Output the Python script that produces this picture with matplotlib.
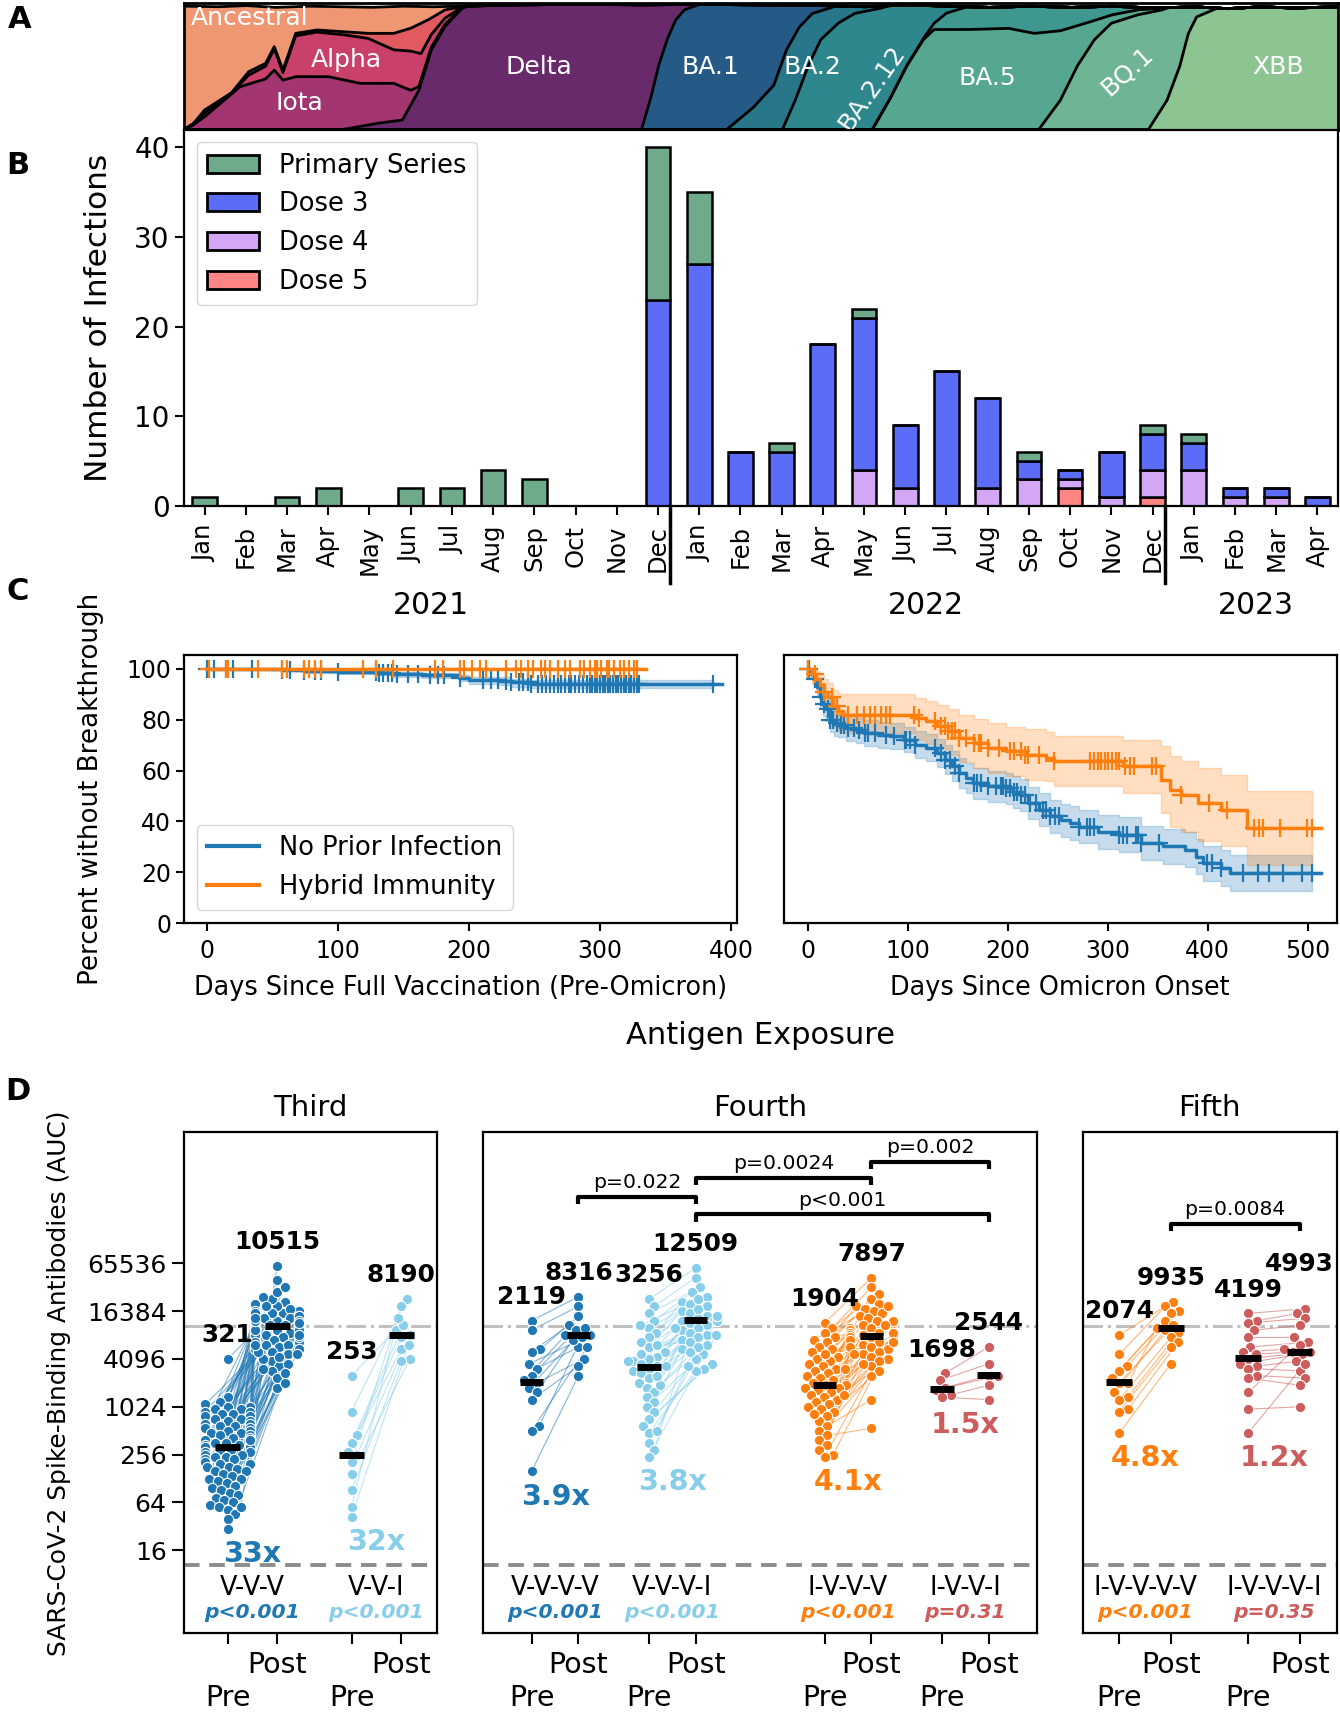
import numpy as np
import matplotlib
matplotlib.use("Agg")
import matplotlib.pyplot as plt
from matplotlib.collections import LineCollection
from matplotlib.patches import Patch
from matplotlib.lines import Line2D
from matplotlib.ticker import NullLocator

plt.rcParams["axes.linewidth"] = 1.6
plt.rcParams["xtick.major.width"] = 1.5
plt.rcParams["ytick.major.width"] = 1.5

W, H = 1340, 1713

# ---------------- A: lineage share (cumulative upper edge of each lineage, bottom -> top) ----------------
variant_names = ["XBB", "BQ.1", "BA.5", "BA.4", "BA.2.12", "BA.2", "BA.1", "Delta", "Iota", "Alpha", "Other", "Ancestral"]
variant_colors = ["#8dc592", "#6eb495", "#56a791", "#3e988f", "#2e878c", "#27768a", "#255a87",
                  "#692a6b", "#a33570", "#c9416b", "#e15a5f", "#ef9672"]
edge_xbb = [(-0.5, 0), (22.9, 0), (23.35, 0.23), (23.66, 0.5), (23.87, 0.76), (24.07, 0.89), (24.5, 0.95), (25.0, 1.0), (27.5, 1.0)]
edge_bq1 = [(-0.5, 0), (20.24, 0), (20.76, 0.23), (21.17, 0.5), (21.59, 0.71), (22.0, 0.84), (22.62, 0.905), (23.24, 0.945), (23.6, 1.0), (27.5, 1.0)]
edge_ba5 = [(-0.5, 0), (16.2, 0), (16.61, 0.23), (17.03, 0.5), (17.44, 0.71), (17.7, 0.79), (18.5, 0.79), (19.5, 0.8), (20.13, 0.76),
            (20.76, 0.78), (21.38, 0.84), (22.0, 0.905), (22.62, 0.945), (23.66, 0.97), (24.0, 1.0), (27.5, 1.0)]
edge_ba4 = [(-0.5, 0), (16.2, 0), (16.61, 0.23), (17.03, 0.5), (17.44, 0.72), (17.7, 0.84), (18.0, 0.92), (18.4, 0.96), (18.8, 1.0), (27.5, 1.0)]
edge_ba212 = [(-0.5, 0), (14.02, 0), (14.33, 0.23), (14.64, 0.5), (14.95, 0.71), (15.37, 0.84), (15.78, 0.918), (16.4, 0.958), (16.8, 1.0), (27.5, 1.0)]
edge_ba2 = [(-0.5, 0), (12.67, 0), (13.3, 0.17), (13.81, 0.35), (14.12, 0.63), (14.43, 0.81), (14.75, 0.918), (15.16, 0.958), (15.5, 1.0), (27.5, 1.0)]
edge_ba1 = [(-0.5, 0), (10.6, 0), (10.81, 0.23), (11.01, 0.5), (11.22, 0.71), (11.43, 0.866), (11.64, 0.945), (11.84, 0.97), (12.1, 1.0), (27.5, 1.0)]
edge_delta = [(-0.5, 0), (3.35, 0), (4.17, 0.048), (4.8, 0.075), (5.2, 0.31), (5.5, 0.628), (5.83, 0.813), (6.25, 0.958), (6.6, 1.0), (27.5, 1.0)]
edge_iota = [(-0.5, 0), (-0.3, 0.03), (0.0, 0.10), (0.86, 0.338), (1.48, 0.4), (1.69, 0.47), (1.9, 0.39), (2.21, 0.418), (3.0, 0.418),
             (3.76, 0.365), (4.59, 0.365), (5.0, 0.31), (5.2, 0.34), (5.5, 0.65), (5.83, 0.83), (6.25, 0.965), (6.6, 1.0), (27.5, 1.0)]
edge_alpha = [(-0.5, 0), (-0.3, 0.04), (0.0, 0.13), (0.65, 0.286), (1.07, 0.43), (1.48, 0.5), (1.69, 0.64), (1.9, 0.45), (2.21, 0.74),
              (2.72, 0.77), (3.35, 0.75), (3.97, 0.72), (4.59, 0.63), (5.0, 0.62), (5.25, 0.6), (5.5, 0.75), (5.83, 0.88), (6.25, 0.968),
              (6.6, 1.0), (27.5, 1.0)]
edge_other = [(-0.5, 0), (-0.3, 0.036), (0.0, 0.154), (0.65, 0.29), (1.07, 0.457), (1.48, 0.523), (1.69, 0.655), (1.9, 0.47), (2.21, 0.76),
              (2.72, 0.787), (3.35, 0.773), (3.97, 0.76), (4.59, 0.76), (5.0, 0.8), (5.42, 0.866), (5.83, 0.945), (6.25, 0.971),
              (6.6, 1.0), (27.5, 1.0)]
edge_top = [(-0.5, 0.975), (0.3, 0.97), (1.0, 0.98), (1.7, 0.965), (2.5, 0.975), (3.3, 0.97), (4.0, 0.965), (4.8, 0.975), (5.5, 0.97),
            (6.3, 0.975), (7.5, 0.985), (9.0, 0.99), (10.5, 0.985), (12.0, 0.99), (13.5, 0.985), (15.0, 0.98), (16.0, 0.97),
            (17.0, 0.985), (18.0, 0.975), (19.0, 0.965), (20.0, 0.975), (21.0, 0.965), (22.0, 0.975), (23.0, 0.96), (24.0, 0.97),
            (24.8, 0.955), (25.6, 0.97), (26.4, 0.96), (27.5, 0.97)]
variant_edges = [edge_xbb, edge_bq1, edge_ba5, edge_ba4, edge_ba212, edge_ba2, edge_ba1, edge_delta, edge_iota, edge_alpha, edge_other]

label_text = ["Ancestral", "Alpha", "Iota", "Delta", "BA.1", "BA.2", "BA.2.12", "BA.5", "BQ.1", "XBB"]
label_x = [1.1, 3.45, 2.31, 8.12, 12.26, 14.75, 16.2, 18.99, 22.4, 26.04]
label_y = [0.88, 0.55, 0.207, 0.497, 0.497, 0.497, 0.326, 0.405, 0.457, 0.497]
label_rot = [0, 0, 0, 0, 0, 0, 55, 0, 42, 0]

# ---------------- B: breakthrough infections per month ----------------
months = ["Jan", "Feb", "Mar", "Apr", "May", "Jun", "Jul", "Aug", "Sep", "Oct", "Nov", "Dec",
          "Jan", "Feb", "Mar", "Apr", "May", "Jun", "Jul", "Aug", "Sep", "Oct", "Nov", "Dec",
          "Jan", "Feb", "Mar", "Apr"]
years = ["2021", "2022", "2023"]
primary_series = [1, 0, 1, 2, 0, 2, 2, 4, 3, 0, 0, 17, 8, 0, 1, 0, 1, 0, 0, 0, 1, 0, 0, 1, 1, 0, 0, 0]
dose3 = [0, 0, 0, 0, 0, 0, 0, 0, 0, 0, 0, 23, 27, 6, 6, 18, 17, 7, 15, 10, 2, 1, 5, 4, 3, 1, 1, 1]
dose4 = [0, 0, 0, 0, 0, 0, 0, 0, 0, 0, 0, 0, 0, 0, 0, 0, 4, 2, 0, 2, 3, 1, 1, 3, 4, 1, 1, 0]
dose5 = [0, 0, 0, 0, 0, 0, 0, 0, 0, 0, 0, 0, 0, 0, 0, 0, 0, 0, 0, 0, 0, 2, 0, 1, 0, 0, 0, 0]
dose_colors = {"Primary Series": "#6fab8b", "Dose 3": "#5a6cf8", "Dose 4": "#d4a6f6", "Dose 5": "#ff8585"}

# ---------------- C: Kaplan-Meier, percent without breakthrough ----------------
blue, orange = "#1f77b4", "#ff7f0e"
pre_none_t = [0, 57, 74, 100, 130, 142, 164, 192, 200, 224, 232, 247]
pre_none_s = [100, 99.5, 99.1, 98.7, 98.4, 97.8, 97.4, 96.5, 95.6, 95.3, 94.6, 94.1]
pre_none_lo = [100, 99.0, 98.4, 97.9, 97.5, 96.8, 96.3, 95.2, 94.2, 93.8, 93.0, 92.4]
pre_none_hi = [100, 99.9, 99.6, 99.3, 99.1, 98.6, 98.3, 97.6, 96.8, 96.6, 96.0, 95.6]
pre_none_cens = [0, 5, 14, 20, 34, 57, 63, 74, 82, 87, 100, 129, 131, 134, 138, 141, 145, 153, 161, 170, 176, 181, 193, 211, 217,
                 222, 228, 232, 238, 241, 245, 247, 253, 256, 259, 262, 265, 268, 270, 273, 276, 278, 281, 284, 287, 290, 292,
                 294, 296, 298, 300, 302, 304, 306, 308, 310, 312, 314, 316, 318, 320, 322, 324, 326, 328, 330, 386]
pre_hyb_t = [0]
pre_hyb_s = [100]
pre_hyb_lo = [100]
pre_hyb_hi = [100]
pre_hyb_cens = [1, 14, 16, 39, 57, 61, 74, 78, 82, 87, 119, 129, 142, 174, 180, 193, 196, 202, 208, 213, 228, 236, 240, 245, 249,
                255, 258, 262, 268, 273, 277, 285, 288, 292, 296, 298, 301, 305, 307, 311, 315, 318, 322, 326, 328]

om_none_t = [0, 3, 6, 9, 12, 15, 18, 22, 26, 30, 38, 48, 56, 70, 82, 96, 107, 118, 129, 137, 144, 151, 158, 165, 180, 198, 205,
             212, 220, 231, 242, 253, 262, 271, 290, 311, 333, 355, 377, 388, 395, 413, 422]
om_none_s = [100, 98, 95.8, 93, 89, 86, 84, 80, 78.5, 78, 76.7, 75.8, 74.8, 74.0, 73.5, 72.2, 70.2, 69, 67, 64.3, 61.7, 59, 57,
             55, 53.8, 53.1, 51.5, 50.5, 47.2, 44.6, 42, 40.5, 39.4, 38, 36, 34.8, 31.5, 30.2, 28.9, 26.2, 23.6, 21.7, 19.7]
om_none_hi = [100, 99.5, 98.5, 96.5, 93.5, 90.5, 88.5, 85, 83.5, 83, 81.7, 80.8, 79.8, 79, 78.5, 77.3, 75.5, 74.3, 72.5, 70, 67.5,
              65, 63, 61, 59.8, 59.2, 57.7, 56.8, 53.6, 51, 48.5, 47, 46, 44.6, 42.7, 41.6, 38.3, 37, 35.8, 33, 30.5, 28.8, 27]
om_none_lo = [100, 96, 92.8, 89.5, 84.5, 81.5, 79.5, 75, 73.5, 73, 71.7, 70.8, 69.8, 69, 68.5, 67.1, 65, 63.7, 61.5, 58.6, 56,
              53, 51, 49, 47.8, 47, 45.3, 44.2, 40.8, 38.2, 35.5, 34, 32.8, 31.4, 29.3, 28, 24.7, 23.4, 22.1, 19.4, 16.7, 14.5, 12.5]
om_none_cens = [0, 1, 7, 13, 16, 20, 22, 25, 29, 33, 36, 40, 46, 51, 57, 60, 67, 78, 86, 97, 98, 102, 107, 127, 133, 137, 142,
                147, 151, 166, 169, 173, 180, 188, 193, 195, 198, 202, 206, 209, 213, 217, 222, 228, 235, 238, 242, 247, 251,
                271, 279, 282, 286, 311, 315, 319, 328, 330, 333, 351, 399, 404, 413, 435, 450, 461, 475, 494, 504]
om_hyb_t = [0, 4, 8, 12, 16, 20, 25, 30, 35, 107, 118, 129, 140, 151, 166, 180, 198, 217, 238, 246, 315, 353, 362, 373, 390, 413, 439]
om_hyb_s = [100, 98, 96, 93.5, 91, 89, 85.3, 83.5, 82, 80.7, 79.4, 77.4, 75.5, 72.8, 70.9, 68.9, 67.5, 66.3, 65, 63.6, 61.7, 56.4,
            52.5, 50.5, 47.2, 44.6, 37.4]
om_hyb_hi = [100, 99.8, 99, 97.5, 95.8, 94.5, 91.5, 90.2, 89.9, 88.5, 87.4, 85.8, 84.2, 82, 80.3, 78.5, 77.2, 76.2, 75, 73.5,
             72.2, 69.5, 65.6, 63.8, 61, 58.4, 51.8]
om_hyb_lo = [100, 94, 91, 87.5, 84.5, 81.5, 77.3, 75.5, 74.8, 72, 70.5, 68.5, 66.2, 63.2, 61, 59, 57.7, 56.4, 55.8, 53.8, 51.2,
             43.3, 38, 36, 32.5, 30.2, 23]
om_hyb_cens = [0, 7, 16, 24, 29, 40, 49, 56, 62, 67, 73, 78, 82, 106, 111, 127, 133, 137, 140, 144, 147, 151, 158, 166, 171, 173,
               180, 191, 202, 206, 213, 217, 220, 231, 246, 282, 286, 290, 293, 297, 300, 304, 308, 311, 317, 322, 326, 344, 348,
               373, 401, 419, 446, 451, 455, 472, 499, 504]

# ---------------- D: spike-binding antibodies, log2 AUC before / after each exposure ----------------
light_blue, red = "#87ceeb", "#cd5c5c"
vvv_pre = [12.0, 10.4, 10.2, 10.1, 10.0, 10.0, 9.9, 9.9, 9.8, 9.8, 9.7, 9.7, 9.6, 9.6, 9.5, 9.5, 9.4, 9.4, 9.3, 9.3,
           9.2, 9.2, 9.1, 9.1, 9.0, 9.0, 8.9, 8.9, 8.8, 8.8, 8.7, 8.7, 8.6, 8.6, 8.5, 8.5, 8.4, 8.4, 8.3, 8.3,
           8.2, 8.2, 8.1, 8.1, 8.0, 8.0, 7.9, 7.9, 7.8, 7.8, 7.7, 7.6, 7.6, 7.5, 7.5, 7.4, 7.3, 7.3, 7.2, 7.1,
           7.0, 7.0, 6.9, 6.8, 6.7, 6.6, 6.5, 6.4, 6.3, 6.2, 6.1, 6.0, 5.9, 5.8, 5.7, 5.5, 5.3, 5.8, 4.9, 8.6]
vvv_post = [14.4, 13.9, 14.2, 14.0, 13.8, 14.5, 13.6, 14.1, 13.7, 13.9, 13.5, 14.3, 13.4, 13.8, 13.6, 14.6, 13.3, 13.7, 13.5, 14.0,
            13.2, 13.6, 13.4, 13.9, 13.1, 13.5, 13.3, 14.8, 13.0, 13.4, 13.2, 13.7, 12.9, 13.3, 13.1, 15.0, 12.8, 13.5, 13.0, 13.2,
            12.7, 13.4, 12.9, 13.8, 12.6, 13.1, 12.8, 14.2, 12.5, 13.3, 12.4, 13.0, 12.7, 13.6, 12.3, 12.9, 12.6, 15.3, 12.2, 13.2,
            13.5, 13.6, 13.7, 11.9, 12.4, 11.7, 12.2, 11.5, 12.0, 11.2, 11.8, 10.8, 12.3, 11.0, 12.6, 11.4, 13.0, 11.6, 12.1, 15.9]
vvi_pre = [11.3, 9.8, 8.8, 8.5, 8.1, 8.0, 7.7, 7.2, 6.5, 5.8, 5.4]
vvi_post = [13.2, 14.5, 12.4, 13.4, 12.9, 13.0, 14.2, 12.0, 11.9, 13.7, 12.6]
vvvv_pre = [13.6, 13.2, 12.4, 12.3, 11.8, 11.6, 11.3, 11.1, 11.0, 10.8, 10.6, 10.3, 9.2, 9.0, 7.3]
vvvv_post = [14.6, 14.2, 13.8, 13.4, 13.0, 12.5, 13.2, 13.0, 12.0, 13.3, 12.8, 11.7, 12.9, 12.5, 11.3]
vvvi_pre = [14.5, 14.2, 13.9, 13.6, 13.3, 13.1, 12.9, 12.7, 12.5, 12.3, 12.1, 12.0, 11.9, 11.8, 11.7, 11.7, 11.6, 11.5, 11.4, 11.2,
            11.0, 10.8, 10.6, 10.4, 10.2, 10.0, 9.8, 9.5, 9.2, 8.9, 8.5, 8.2, 7.9, 12.6, 13.4, 11.9, 10.9, 12.2, 11.3, 9.0]
vvvi_post = [15.8, 15.4, 15.0, 14.8, 14.6, 14.4, 14.3, 14.2, 14.0, 13.9, 13.8, 13.7, 13.7, 13.6, 13.6, 13.5, 13.4, 13.3, 13.2, 13.1,
             13.0, 12.9, 12.8, 12.6, 12.4, 12.2, 12.0, 11.8, 11.6, 11.5, 13.6, 14.1, 13.0, 12.7, 14.5, 13.3, 12.5, 13.8, 12.3, 11.7]
ivvv_pre = [13.5, 13.3, 13.1, 12.9, 12.8, 12.7, 12.5, 12.4, 12.3, 12.1, 12.0, 11.9, 11.8, 11.7, 11.6, 11.5, 11.4, 11.3, 11.2, 11.1,
            11.0, 11.0, 10.9, 10.9, 10.8, 10.8, 10.7, 10.6, 10.5, 10.4, 10.3, 10.2, 10.1, 10.0, 9.9, 9.8, 9.6, 9.4, 9.2, 9.0,
            8.8, 8.6, 8.4, 8.2, 8.0, 7.9, 11.6, 12.2, 10.5, 9.7]
ivvv_post = [15.4, 15.0, 14.7, 14.5, 14.3, 14.2, 14.1, 14.0, 13.9, 13.8, 13.7, 13.6, 13.5, 13.4, 13.3, 13.3, 13.2, 13.1, 13.1, 13.0,
             13.0, 13.0, 12.9, 12.9, 12.9, 12.8, 12.8, 12.7, 12.6, 12.5, 12.4, 12.3, 12.2, 12.1, 12.0, 11.9, 11.7, 11.5, 11.3, 10.3,
             9.1, 13.6, 12.5, 14.2, 12.9, 13.1, 13.4, 12.7, 12.2, 11.8]
ivvi_pre = [11.4, 11.1, 10.8, 10.7, 10.5, 10.4]
ivvi_post = [12.5, 11.8, 11.3, 11.3, 10.9, 10.3]
ivvvv_pre = [13.0, 12.2, 11.7, 11.5, 11.2, 11.0, 11.0, 10.6, 10.4, 10.3, 9.9, 9.8, 8.9]
ivvvv_post = [14.4, 14.2, 14.0, 13.9, 13.6, 13.4, 13.3, 13.2, 13.1, 12.9, 12.7, 12.5, 11.8]
ivvvi_pre = [13.9, 13.6, 13.5, 13.2, 12.9, 12.5, 12.3, 12.2, 12.0, 11.8, 11.7, 11.6, 11.3, 11.2, 10.6, 9.9, 8.9]
ivvvi_post = [14.1, 13.9, 13.7, 13.4, 12.9, 12.7, 12.4, 12.3, 12.3, 12.2, 11.9, 11.5, 11.2, 10.9, 12.6, 10.0, 11.8]

# per panel: (name, colour, pre, post, pre x, median pre, median post, fold, p)
third_groups = [("V-V-V", blue, vvv_pre, vvv_post, 0.0, 321, 10515, "33x", "p<0.001"),
                ("V-V-I", light_blue, vvi_pre, vvi_post, 2.5, 253, 8190, "32x", "p<0.001")]
fourth_groups = [("V-V-V-V", blue, vvvv_pre, vvvv_post, 0.0, 2119, 8316, "3.9x", "p<0.001"),
                 ("V-V-V-I", light_blue, vvvi_pre, vvvi_post, 2.5, 3256, 12509, "3.8x", "p<0.001"),
                 ("I-V-V-V", orange, ivvv_pre, ivvv_post, 6.25, 1904, 7897, "4.1x", "p<0.001"),
                 ("I-V-V-I", red, ivvi_pre, ivvi_post, 8.75, 1698, 2544, "1.5x", "p=0.31")]
fifth_groups = [("I-V-V-V-V", orange, ivvvv_pre, ivvvv_post, 0.0, 2074, 9935, "4.8x", "p<0.001"),
                ("I-V-V-V-I", red, ivvvi_pre, ivvvi_post, 2.5, 4199, 4993, "1.2x", "p=0.35")]
median_label_lift = {4993: 15}  # points, lifted clear of its neighbour
# brackets: (x1, x2, log2 level, text)
fourth_brackets = [(1.0, 3.5, 18.77, "p=0.022"), (3.5, 7.25, 19.56, "p=0.0024"),
                   (7.25, 9.75, 20.23, "p=0.002"), (3.5, 9.75, 18.04, "p<0.001")]
fifth_brackets = [(1.0, 3.5, 17.64, "p=0.0084")]
lod, upper_ref = 10.3, 10600


def rect(x0, y0, x1, y1):
    return [x0 / W, 1 - y1 / H, (x1 - x0) / W, (y1 - y0) / H]


def swarm(vals, unit_px, dy_px=23.92, d=9.0, maxw=0.45):
    vals = np.asarray(vals, float)
    ys = vals * dy_px
    order = np.argsort(vals, kind="stable")
    px, py = [], []
    out = np.zeros(len(vals))
    lim = maxw * unit_px
    for i in order:
        y = ys[i]
        cands = [0.0]
        for a, b in zip(px, py):
            dy = abs(y - b)
            if dy < d:
                dx = np.sqrt(d * d - dy * dy)
                cands += [a + dx, a - dx]
        cands.sort(key=abs)
        pick = None
        for c in cands:
            if abs(c) > lim:
                continue
            if all((c - a) ** 2 + (y - b) ** 2 >= d * d - 1e-6 for a, b in zip(px, py)):
                pick = c
                break
        if pick is None:
            pick = lim if len(px) % 2 else -lim
        px.append(pick)
        py.append(y)
        out[i] = pick / unit_px
    return out


fig = plt.figure(figsize=(W / 100, H / 100), dpi=100)

# ---------------- A ----------------
axA = fig.add_axes(rect(184, 3, 1338, 129.5))
grid = np.linspace(-0.5, 27.5, 2801)
top = np.interp(grid, *zip(*edge_top))
cums = [np.minimum(np.interp(grid, *zip(*e)), top) for e in variant_edges] + [top]
for k in range(1, len(cums)):
    cums[k] = np.maximum(cums[k], cums[k - 1])
lower = np.zeros_like(grid)
for c, col in zip(cums, variant_colors):
    axA.fill_between(grid, lower, c, color=col, lw=0)
    lower = c
for c in cums:
    axA.plot(grid, c, color="k", lw=2)
for t, x, y, r in zip(label_text, label_x, label_y, label_rot):
    axA.text(x, y, t, color="white", fontsize=18, ha="center", va="center", rotation=r)
axA.set_xlim(-0.5, 27.5)
axA.set_ylim(0, 1)
axA.set_xticks([])
axA.set_yticks([])
for s in axA.spines.values():
    s.set_linewidth(2)

# ---------------- B ----------------
axB = fig.add_axes(rect(184, 129.5, 1338, 505.7))
x = np.arange(len(months))
b = np.zeros(len(months))
for name, vals in [("Dose 5", dose5), ("Dose 4", dose4), ("Dose 3", dose3), ("Primary Series", primary_series)]:
    axB.bar(x, vals, 0.6, bottom=b, color=dose_colors[name], edgecolor="k", lw=1.8)
    b = b + np.array(vals)
axB.set_xlim(-0.5, 27.5)
axB.set_ylim(0, 42)
axB.set_yticks([0, 10, 20, 30, 40])
axB.set_xticks(x)
axB.set_xticklabels(months, rotation=90, fontsize=17.5)
axB.tick_params(axis="y", labelsize=20, length=6.7)
axB.tick_params(axis="x", length=6.7, pad=7)
for xs in [11.3, 23.3]:
    axB.plot([xs, xs], [0, -8.6], color="k", lw=2.5, clip_on=False)
for yr, xc in zip(years, [5.5, 17.5, 25.5]):
    axB.text(xc, -11.1, yr, fontsize=21.5, ha="center", va="center", clip_on=False)
handles = [Patch(facecolor=dose_colors[n], edgecolor="k", lw=2) for n in dose_colors]
axB.legend(handles, list(dose_colors), loc="upper left", fontsize=18.5, handlelength=2.0)
fig.text(99 / W, 1 - 318 / H, "Number of Infections", rotation=90, fontsize=22.5, ha="center", va="center")


# ---------------- C ----------------
def km(ax, t, s, lo, hi, t_end, ci_end, cens, color):
    t = np.asarray(t, float)
    s = np.asarray(s, float)
    ax.fill_between(list(t) + [ci_end], list(lo) + [lo[-1]], list(hi) + [hi[-1]], step="post",
                    color=color, alpha=0.25, lw=1)
    ax.step(list(t) + [t_end], list(s) + [s[-1]], where="post", color=color, lw=2.5)
    idx = np.searchsorted(t, cens, side="right") - 1
    ax.plot(cens, s[idx], ls="none", marker="+", ms=13, mew=1.6, color=color)


axC1 = fig.add_axes(rect(184.2, 655, 736.8, 923.3))
km(axC1, pre_none_t, pre_none_s, pre_none_lo, pre_none_hi, 393, 386, pre_none_cens, blue)
km(axC1, pre_hyb_t, pre_hyb_s, pre_hyb_lo, pre_hyb_hi, 335, 330, pre_hyb_cens, orange)
axC1.set_xlim(-17.6, 404.5)
axC1.set_ylim(0, 105.4)
axC1.set_xticks([0, 100, 200, 300, 400])
axC1.set_yticks([0, 20, 40, 60, 80, 100])
axC1.tick_params(labelsize=17, length=5.8)
axC1.tick_params(axis="x", pad=5.5)
axC1.text(0.5, -0.243, "Days Since Full Vaccination (Pre-Omicron)", transform=axC1.transAxes,
          fontsize=18.4, ha="center", va="center")
axC1.legend([Line2D([], [], color=blue, lw=3), Line2D([], [], color=orange, lw=3)],
            ["No Prior Infection", "Hybrid Immunity"], loc="lower left", fontsize=18.5, handlelength=2.0)

axC2 = fig.add_axes(rect(783.5, 655, 1336.5, 923.3))
km(axC2, om_none_t, om_none_s, om_none_lo, om_none_hi, 513, 504, om_none_cens, blue)
km(axC2, om_hyb_t, om_hyb_s, om_hyb_lo, om_hyb_hi, 513, 504, om_hyb_cens, orange)
axC2.set_xlim(-24.7, 529)
axC2.set_ylim(0, 105.4)
axC2.set_xticks([0, 100, 200, 300, 400, 500])
axC2.tick_params(labelsize=17, length=5.8)
axC2.tick_params(axis="x", pad=5.5)
axC2.tick_params(axis="y", left=False, labelleft=False)
axC2.text(0.5, -0.243, "Days Since Omicron Onset", transform=axC2.transAxes,
          fontsize=18.4, ha="center", va="center")
fig.text(91 / W, 1 - 789 / H, "Percent without Breakthrough", rotation=90, fontsize=18.8, ha="center", va="center")
fig.text(761 / W, 1 - 1036 / H, "Antigen Exposure", fontsize=22, ha="center", va="center")

# ---------------- D ----------------
d_axes = [
    (rect(184, 1131.7, 437.3, 1633.3), (-0.88, 4.23), "Third", third_groups, []),
    (rect(483.3, 1131.7, 1037, 1633.3), (-1.03, 10.78), "Fourth", fourth_groups, fourth_brackets),
    (rect(1082.7, 1131.7, 1336.7, 1633.3), (-0.71, 4.22), "Fifth", fifth_groups, fifth_brackets),
]
yticks_d = [16, 64, 256, 1024, 4096, 16384, 65536]
for k, (pos, xl, title, groups, brackets) in enumerate(d_axes):
    ax = fig.add_axes(pos)
    ax.set_yscale("log", base=2)
    ax.set_xlim(*xl)
    ax.set_ylim(2 ** 0.53, 2 ** 21.5)
    unit_px = pos[2] * W / (xl[1] - xl[0])
    ax.axhline(lod, color="#8c8c8c", ls=(0, (4, 2.5)), lw=2.8, zorder=1)
    ax.axhline(upper_ref, color="#c0c0c0", ls="-.", lw=2.2, zorder=1)
    ticks, ticklabels = [], []
    for name, col, pre, post, x0, mpre, mpost, fold, pval in groups:
        pre = np.asarray(pre)
        post = np.asarray(post)
        xa = x0 + swarm(pre, unit_px)
        xb = x0 + 1 + swarm(post, unit_px)
        segs = [[(a, 2 ** p), (c, 2 ** q)] for a, p, c, q in zip(xa, pre, xb, post)]
        ax.add_collection(LineCollection(segs, colors=col, lw=0.8, alpha=0.55, zorder=2))
        ax.scatter(xa, 2 ** pre, s=55, color=col, edgecolor="white", lw=0.8, zorder=3)
        ax.scatter(xb, 2 ** post, s=55, color=col, edgecolor="white", lw=0.8, zorder=3)
        for xm, m, vals in [(x0, mpre, pre), (x0 + 1, mpost, post)]:
            ax.hlines(m, xm - 0.25, xm + 0.25, color="k", lw=5, zorder=4)
            ax.annotate(str(m), (xm, 2 ** vals.max()), xytext=(0, 12 + median_label_lift.get(m, 0)),
                        textcoords="offset points", ha="center", va="baseline", fontsize=17.8,
                        fontweight="bold", zorder=5)
        ax.annotate(fold, (x0 + 0.5, 2 ** min(pre.min(), post.min())), xytext=(0, -24), textcoords="offset points",
                    ha="center", va="baseline", fontsize=20.5, fontweight="bold", color=col, zorder=5)
        ax.text(x0 + 0.5, 0.0903, name, transform=ax.get_xaxis_transform(), ha="center", va="center", fontsize=18.4)
        ax.text(x0 + 0.5, 0.0405, pval, transform=ax.get_xaxis_transform(), ha="center", va="center",
                fontsize=14.6, fontweight="bold", fontstyle="italic", color=col)
        ticks += [x0, x0 + 1]
        ticklabels += ["\nPre", "Post"]
    for x1, x2, lvl, txt in brackets:
        ax.plot([x1, x1, x2, x2], [2 ** (lvl - 0.3), 2 ** lvl, 2 ** lvl, 2 ** (lvl - 0.3)], color="k", lw=3,
                solid_capstyle="butt")
        ax.text((x1 + x2) / 2, 2 ** (lvl + 0.6), txt, ha="center", va="center", fontsize=14.7)
    ax.set_xticks(ticks)
    ax.set_xticklabels(ticklabels, fontsize=20.5)
    ax.tick_params(axis="x", length=8, pad=5)
    ax.yaxis.set_minor_locator(NullLocator())
    if k == 0:
        ax.set_yticks(yticks_d)
        ax.set_yticklabels([str(v) for v in yticks_d], fontsize=18)
        ax.tick_params(axis="y", length=9)
    else:
        ax.set_yticks([])
    ax.text(0.5, 1 + 24 / 501.6, title, transform=ax.transAxes, ha="center", va="center", fontsize=21)

fig.text(59 / W, 1 - 1383 / H, "SARS-CoV-2 Spike-Binding Antibodies (AUC)", rotation=90, fontsize=17.9,
         ha="center", va="center")

for letter, (px, py) in zip("ABCD", [(19.5, 20), (17.5, 166), (17.5, 592), (17.5, 1092)]):
    fig.text(px / W, 1 - py / H, letter, fontsize=22, fontweight="bold", ha="center", va="center")

fig.savefig("out.png", dpi=100)
